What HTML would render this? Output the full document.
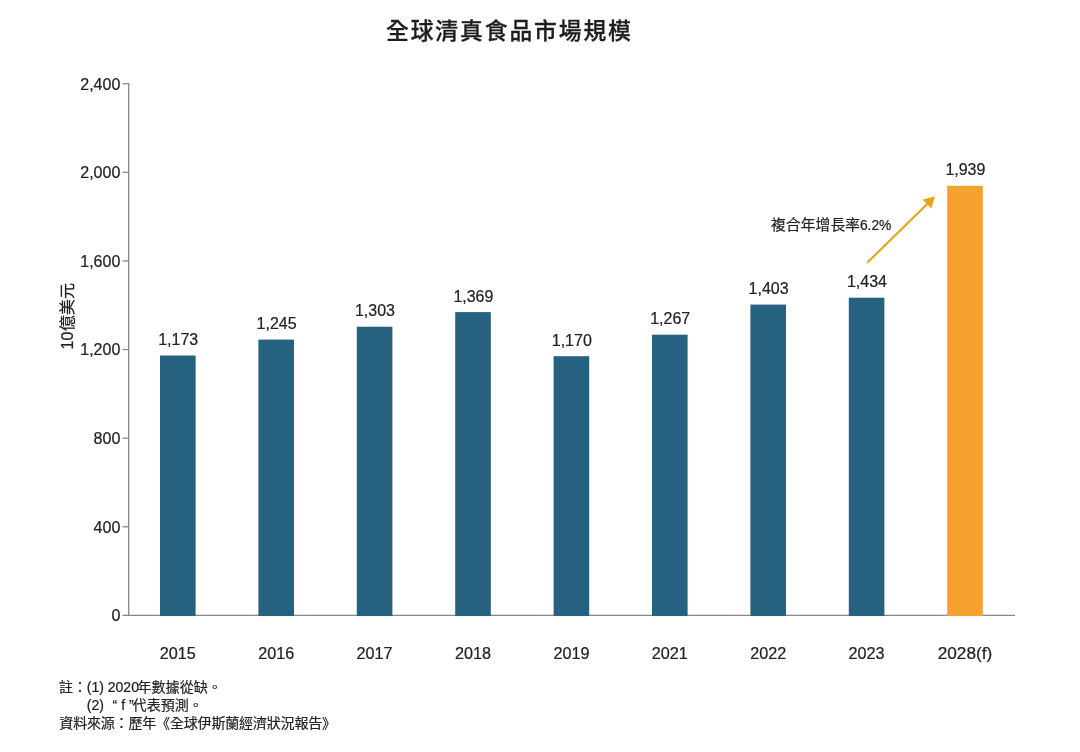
<!DOCTYPE html>
<html lang="zh-Hant"><head><meta charset="utf-8"><title>全球清真食品市場規模</title>
<style>
html,body{margin:0;padding:0;background:#fff;}
body{width:1080px;height:752px;overflow:hidden;font-family:"Liberation Sans","Noto Sans CJK TC",sans-serif;}
svg{display:block;will-change:transform;}
svg text{font-family:"Liberation Sans","Noto Sans CJK TC",sans-serif;}
</style></head>
<body>
<svg width="1080" height="752" viewBox="0 0 1080 752">
<rect width="1080" height="752" fill="#ffffff"/>
<path d="M128.7 83.10000000000001 V615.4 M122.49999999999999 615.4 H1015" stroke="#888888" stroke-width="1.3" fill="none"/>
<path d="M122.49999999999999 526.78 H128.7" stroke="#888888" stroke-width="1.3"/>
<path d="M122.49999999999999 438.17 H128.7" stroke="#888888" stroke-width="1.3"/>
<path d="M122.49999999999999 349.55 H128.7" stroke="#888888" stroke-width="1.3"/>
<path d="M122.49999999999999 260.93 H128.7" stroke="#888888" stroke-width="1.3"/>
<path d="M122.49999999999999 172.32 H128.7" stroke="#888888" stroke-width="1.3"/>
<path d="M122.49999999999999 83.70 H128.7" stroke="#888888" stroke-width="1.3"/>
<rect x="160.00" y="355.53" width="35.6" height="260.52" fill="#26617F"/>
<rect x="258.40" y="339.58" width="35.6" height="276.47" fill="#26617F"/>
<rect x="356.80" y="326.73" width="35.6" height="289.32" fill="#26617F"/>
<rect x="455.20" y="312.11" width="35.6" height="303.94" fill="#26617F"/>
<rect x="553.60" y="356.20" width="35.6" height="259.85" fill="#26617F"/>
<rect x="652.00" y="334.71" width="35.6" height="281.34" fill="#26617F"/>
<rect x="750.40" y="304.58" width="35.6" height="311.47" fill="#26617F"/>
<rect x="848.80" y="297.71" width="35.6" height="318.34" fill="#26617F"/>
<rect x="947.20" y="185.83" width="35.6" height="430.22" fill="#F5A22E"/>
<text x="120.30" y="621.25" font-size="16" text-anchor="end" fill="#222222" stroke="#222222" stroke-width="0.22">0</text>
<text x="120.30" y="532.63" font-size="16" text-anchor="end" fill="#222222" stroke="#222222" stroke-width="0.22">400</text>
<text x="120.30" y="444.02" font-size="16" text-anchor="end" fill="#222222" stroke="#222222" stroke-width="0.22">800</text>
<text x="120.30" y="355.40" font-size="16" text-anchor="end" fill="#222222" stroke="#222222" stroke-width="0.22">1,200</text>
<text x="120.30" y="266.78" font-size="16" text-anchor="end" fill="#222222" stroke="#222222" stroke-width="0.22">1,600</text>
<text x="120.30" y="178.17" font-size="16" text-anchor="end" fill="#222222" stroke="#222222" stroke-width="0.22">2,000</text>
<text x="120.30" y="89.55" font-size="16" text-anchor="end" fill="#222222" stroke="#222222" stroke-width="0.22">2,400</text>
<text x="178.20" y="345.03" font-size="16" text-anchor="middle" fill="#222222" stroke="#222222" stroke-width="0.22">1,173</text>
<text x="177.80" y="659.30" font-size="16.2" text-anchor="middle" fill="#222222" stroke="#222222" stroke-width="0.22">2015</text>
<text x="276.60" y="329.08" font-size="16" text-anchor="middle" fill="#222222" stroke="#222222" stroke-width="0.22">1,245</text>
<text x="276.20" y="659.30" font-size="16.2" text-anchor="middle" fill="#222222" stroke="#222222" stroke-width="0.22">2016</text>
<text x="375.00" y="316.23" font-size="16" text-anchor="middle" fill="#222222" stroke="#222222" stroke-width="0.22">1,303</text>
<text x="374.60" y="659.30" font-size="16.2" text-anchor="middle" fill="#222222" stroke="#222222" stroke-width="0.22">2017</text>
<text x="473.40" y="301.61" font-size="16" text-anchor="middle" fill="#222222" stroke="#222222" stroke-width="0.22">1,369</text>
<text x="473.00" y="659.30" font-size="16.2" text-anchor="middle" fill="#222222" stroke="#222222" stroke-width="0.22">2018</text>
<text x="571.80" y="345.70" font-size="16" text-anchor="middle" fill="#222222" stroke="#222222" stroke-width="0.22">1,170</text>
<text x="571.40" y="659.30" font-size="16.2" text-anchor="middle" fill="#222222" stroke="#222222" stroke-width="0.22">2019</text>
<text x="670.20" y="324.21" font-size="16" text-anchor="middle" fill="#222222" stroke="#222222" stroke-width="0.22">1,267</text>
<text x="669.80" y="659.30" font-size="16.2" text-anchor="middle" fill="#222222" stroke="#222222" stroke-width="0.22">2021</text>
<text x="768.60" y="294.08" font-size="16" text-anchor="middle" fill="#222222" stroke="#222222" stroke-width="0.22">1,403</text>
<text x="768.20" y="659.30" font-size="16.2" text-anchor="middle" fill="#222222" stroke="#222222" stroke-width="0.22">2022</text>
<text x="867.00" y="287.21" font-size="16" text-anchor="middle" fill="#222222" stroke="#222222" stroke-width="0.22">1,434</text>
<text x="866.60" y="659.30" font-size="16.2" text-anchor="middle" fill="#222222" stroke="#222222" stroke-width="0.22">2023</text>
<text x="965.40" y="175.33" font-size="16" text-anchor="middle" fill="#222222" stroke="#222222" stroke-width="0.22">1,939</text>
<text transform="translate(965.00 659.30) scale(1.065 1)" font-size="16.2" text-anchor="middle" fill="#222222" stroke="#222222" stroke-width="0.22">2028(f)</text>
<text x="386.00" y="39.10" font-size="22.8" font-weight="500" letter-spacing="1.88" text-anchor="start" fill="#1e1e1e" stroke="#1e1e1e" stroke-width="0.3" style="font-family:'Liberation Sans','Noto Sans CJK TC',sans-serif">全球清真食品市場規模</text>
<g transform="translate(73.4 349.5) rotate(-90)">
<text x="0.00" y="0.00" font-size="16" text-anchor="start" fill="#222222" stroke="#222222" stroke-width="0.22">10</text>
<text x="18.20" y="0.00" font-size="16.2" text-anchor="start" fill="#222222" stroke="#222222" stroke-width="0.18">億美元</text>
</g>
<text x="771.00" y="230.00" font-size="14.8" letter-spacing="0.05" text-anchor="start" fill="#222222" stroke="#222222" stroke-width="0.18">複合年增長率</text>
<text transform="translate(859.90 230.00) scale(0.935 1)" font-size="14.8" text-anchor="start" fill="#222222" stroke="#222222" stroke-width="0.22">6.2%</text>
<path d="M867.2 262.7 L929 202.3" stroke="#E8A616" stroke-width="2.2" fill="none"/>
<path d="M935 196.4 L922.6 199.4 L931.2 208.6 Z" fill="#E8A616"/>
<text x="59.10" y="692.30" font-size="14" text-anchor="start" fill="#222222" stroke="#222222" stroke-width="0.18">註：</text>
<text x="86.80" y="692.00" font-size="14" text-anchor="start" fill="#222222" stroke="#222222" stroke-width="0.22">(1) 2020</text>
<text x="137.50" y="692.30" font-size="14" letter-spacing="0.05" text-anchor="start" fill="#222222" stroke="#222222" stroke-width="0.18">年數據從缺。</text>
<text x="86.80" y="709.90" font-size="14" text-anchor="start" fill="#222222" stroke="#222222" stroke-width="0.22">(2)</text>
<text x="112.60" y="709.90" font-size="14" text-anchor="start" fill="#222222" stroke="#222222" stroke-width="0.22">“ f ”</text>
<text x="132.60" y="710.20" font-size="14" letter-spacing="0.05" text-anchor="start" fill="#222222" stroke="#222222" stroke-width="0.18">代表預測。</text>
<text x="59.30" y="728.40" font-size="14" letter-spacing="-0.17" text-anchor="start" fill="#222222" stroke="#222222" stroke-width="0.18">資料來源：歷年《全球伊斯蘭經濟狀況報告》</text>
</svg>
</body></html>
